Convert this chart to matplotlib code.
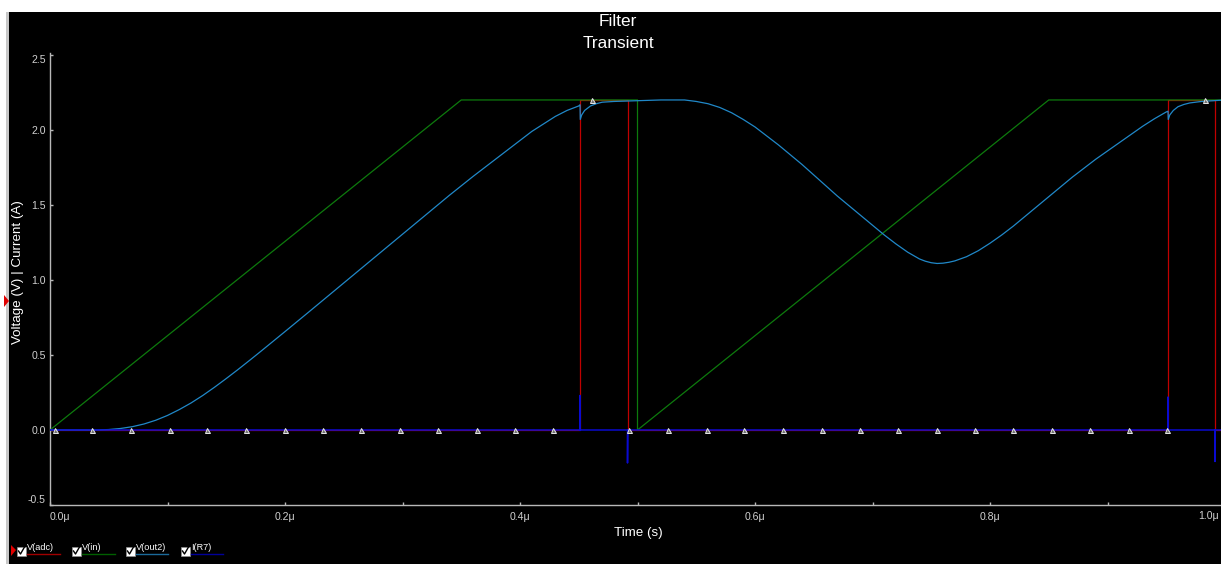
import numpy as np
import matplotlib
matplotlib.use("Agg")
import matplotlib.pyplot as plt
from matplotlib.patches import Rectangle, Polygon
from matplotlib.lines import Line2D

plt.rcParams['font.family'] = ['Liberation Sans', 'DejaVu Sans']

# ---------------- data (time in microseconds) ----------------
t_in = [0.0, 0.35, 0.50, 0.50, 0.85, 1.0]
v_in = [0.0, 2.20, 2.20, 0.00, 2.20, 2.20]

t_adc = [0.0, 0.4511, 0.4511, 0.4915, 0.4915, 0.9515, 0.9515, 0.9915, 0.9915, 1.0]
v_adc = [0.0, 0.0, 2.2, 2.2, 0.0, 0.0, 2.2, 2.2, 0.0, 0.0]

adc_marker_t = [0.004, 0.036, 0.069, 0.102, 0.134, 0.167, 0.200, 0.232, 0.265,
                0.298, 0.330, 0.363, 0.396, 0.428, 0.461, 0.493, 0.526, 0.559,
                0.591, 0.624, 0.657, 0.689, 0.722, 0.755, 0.787, 0.820, 0.853,
                0.885, 0.918, 0.9505, 0.983]

t_out = [0.0, 0.04, 0.05, 0.06, 0.07, 0.08, 0.09, 0.10, 0.11, 0.12, 0.13, 0.14,
         0.15, 0.16, 0.17, 0.18, 0.19, 0.20, 0.22, 0.24, 0.26, 0.28, 0.30, 0.32,
         0.34, 0.36, 0.37, 0.38, 0.39, 0.40, 0.41, 0.42, 0.43, 0.44, 0.45,
         0.4511, 0.4513, 0.4525, 0.455, 0.46, 0.465, 0.47, 0.48, 0.50, 0.52, 0.54,
         0.55, 0.56, 0.57, 0.58, 0.59, 0.60, 0.61, 0.62, 0.63, 0.64, 0.65, 0.66,
         0.67, 0.68, 0.69, 0.70, 0.71, 0.72, 0.73, 0.74, 0.745, 0.75, 0.755, 0.76,
         0.765, 0.77, 0.78, 0.79, 0.80, 0.81, 0.82, 0.83, 0.84, 0.85, 0.86, 0.87,
         0.88, 0.89, 0.90, 0.91, 0.92, 0.93, 0.94, 0.95, 0.9515, 0.9517, 0.953,
         0.956, 0.96, 0.965, 0.97, 0.98, 1.0]
v_out = [0.0, 0.0, 0.003, 0.010, 0.022, 0.040, 0.065, 0.097, 0.136, 0.180, 0.230,
         0.285, 0.343, 0.403, 0.465, 0.528, 0.592, 0.656, 0.785, 0.915, 1.045,
         1.175, 1.305, 1.435, 1.565, 1.690, 1.750, 1.810, 1.870, 1.930, 1.990,
         2.040, 2.090, 2.130, 2.160, 2.168, 2.070, 2.100, 2.130, 2.160, 2.175,
         2.185, 2.190, 2.195, 2.200, 2.200, 2.190, 2.175, 2.150, 2.115, 2.070,
         2.020, 1.960, 1.900, 1.835, 1.770, 1.700, 1.630, 1.560, 1.495, 1.430,
         1.365, 1.300, 1.240, 1.185, 1.140, 1.125, 1.115, 1.110, 1.112, 1.118,
         1.127, 1.155, 1.195, 1.245, 1.300, 1.360, 1.425, 1.490, 1.555, 1.620,
         1.685, 1.745, 1.805, 1.860, 1.915, 1.970, 2.025, 2.075, 2.120, 2.125,
         2.070, 2.100, 2.130, 2.155, 2.170, 2.180, 2.190, 2.200]

t_i = [0.0, 0.4511, 0.4511, 0.4513, 0.4915, 0.4915, 0.4917, 0.9515, 0.9515,
       0.9517, 0.9915, 0.9915, 0.9917, 1.0]
v_i = [0.0, 0.0, 0.23, 0.0, 0.0, -0.22, 0.0, 0.0, 0.22, 0.0, 0.0, -0.21, 0.0, 0.0]

x_ticks = [0.0, 0.2, 0.4, 0.6, 0.8]
x_ticklabels = ["0.0\u03bc", "0.2\u03bc", "0.4\u03bc", "0.6\u03bc", "0.8\u03bc"]
x_last_label = "1.0\u03bc"
x_minor = [0.1, 0.3, 0.5, 0.7, 0.9]
y_ticks = [-0.5, 0.0, 0.5, 1.0, 1.5, 2.0, 2.5]
y_ticklabels = ["-0.5", "0.0", "0.5", "1.0", "1.5", "2.0", "2.5"]

series_names = ["V(adc)", "V(in)", "V(out2)", "I(R7)"]
series_colors = ["#c00000", "#0d7a0d", "#2088c8", "#0a0ad0"]
legend_colors = ["#a00000", "#006000", "#1a6a9a", "#00009a"]

# ---------------- figure ----------------
W, H = 1221, 564
fig = plt.figure(figsize=(W / 100, H / 100), dpi=100, facecolor='white')

def fx(x):
    return x / W

def fy(y):
    return 1 - y / H

# black panel + gray left band
fig.patches.append(Rectangle((fx(9), 0), 1 - fx(9), fy(12), transform=fig.transFigure,
                             facecolor='black', edgecolor='none', zorder=-10))
fig.patches.append(Rectangle((fx(6), 0), fx(3), fy(12), transform=fig.transFigure,
                             facecolor='#c8c8c8', edgecolor='none', zorder=-9))

ax_l, ax_r, ax_t, ax_b = 50, 1225, 53, 505
ax = fig.add_axes([fx(ax_l), fy(ax_b), (ax_r - ax_l) / W, (ax_b - ax_t) / H])
ax.set_facecolor('black')
ax.set_xlim(0, 1.0)
ax.set_ylim(-0.5, 2.513)

lw = 0.9
ax.plot(t_adc, v_adc, color=series_colors[0], lw=lw, zorder=2)
ax.plot(t_in, v_in, color=series_colors[1], lw=lw, zorder=3)
ax.plot(t_out, v_out, color=series_colors[2], lw=lw, zorder=4)
ax.plot(t_i, v_i, color=series_colors[3], lw=1.1, zorder=5)
ax.plot(adc_marker_t, np.interp(adc_marker_t, t_adc, v_adc), linestyle='none',
        marker='^', ms=3.6, mfc='#707070', mec='#e8e8e8', mew=0.7, zorder=6)

for side in ['top', 'right']:
    ax.spines[side].set_visible(False)
for side in ['left', 'bottom']:
    ax.spines[side].set_color('#b8b8b8')
    ax.spines[side].set_linewidth(1.0)

ax.set_xticks(x_ticks + [1.0])
ax.set_xticklabels(x_ticklabels + [""])
ax.set_xticks(x_minor, minor=True)
ax.set_yticks(y_ticks)
ax.set_yticklabels(y_ticklabels)
ax.tick_params(axis='both', which='both', colors='#b8b8b8', labelcolor='#d0d0d0',
               labelsize=7.6, length=2, width=1, direction='in')
ax.tick_params(axis='x', pad=5)
ax.tick_params(axis='y', pad=3)
xl = ax.get_xticklabels()
xl[0].set_ha('left')
yl = ax.get_yticklabels()
yl[0].set_va('bottom')
yl[-1].set_va('top')
# last x label, kept inside the picture
fig.text(fx(1219), fy(516), x_last_label, color='#d0d0d0', fontsize=7.6,
         ha='right', va='center')

# titles / labels
fig.text(fx(618), fy(22), "Filter", color='white', fontsize=12.4, ha='center', va='center')
fig.text(fx(618), fy(43), "Transient", color='white', fontsize=12.4, ha='center', va='center')
fig.text(fx(638), fy(533), "Time (s)", color='white', fontsize=9.6, ha='center', va='center')
fig.text(fx(18), fy(272), "Voltage (V) | Current (A)", color='white', fontsize=9.6,
         ha='center', va='center', rotation=90)

# red side marker
fig.patches.append(Polygon([(fx(4), fy(295)), (fx(9), fy(301)), (fx(4), fy(307))],
                           closed=True, transform=fig.transFigure, facecolor='#e00000',
                           edgecolor='none'))

# legend at bottom
fig.patches.append(Polygon([(fx(11), fy(545)), (fx(16), fy(550)), (fx(11), fy(556))],
                           closed=True, transform=fig.transFigure, facecolor='#e00000',
                           edgecolor='none'))
box_x = [17, 72, 126, 181]
line_len = [33, 33, 32, 32]
for bx, name, col, ll in zip(box_x, series_names, legend_colors, line_len):
    fig.patches.append(Rectangle((fx(bx), fy(556)), fx(9), 9 / H, transform=fig.transFigure,
                                 facecolor='white', edgecolor='#909090', lw=0.5))
    fig.lines.append(Line2D([fx(bx + 1.5), fx(bx + 3.5), fx(bx + 7.5)],
                            [fy(551), fy(554), fy(547)], transform=fig.transFigure,
                            color='black', lw=1.0))
    fig.text(fx(bx + 10), fy(548), name, color='white', fontsize=6.6, ha='left', va='center')
    fig.lines.append(Line2D([fx(bx + 10), fx(bx + 10 + ll)], [fy(554), fy(554)],
                            transform=fig.transFigure, color=col, lw=1.0))

fig.savefig("out.png", dpi=100, facecolor=fig.get_facecolor())
